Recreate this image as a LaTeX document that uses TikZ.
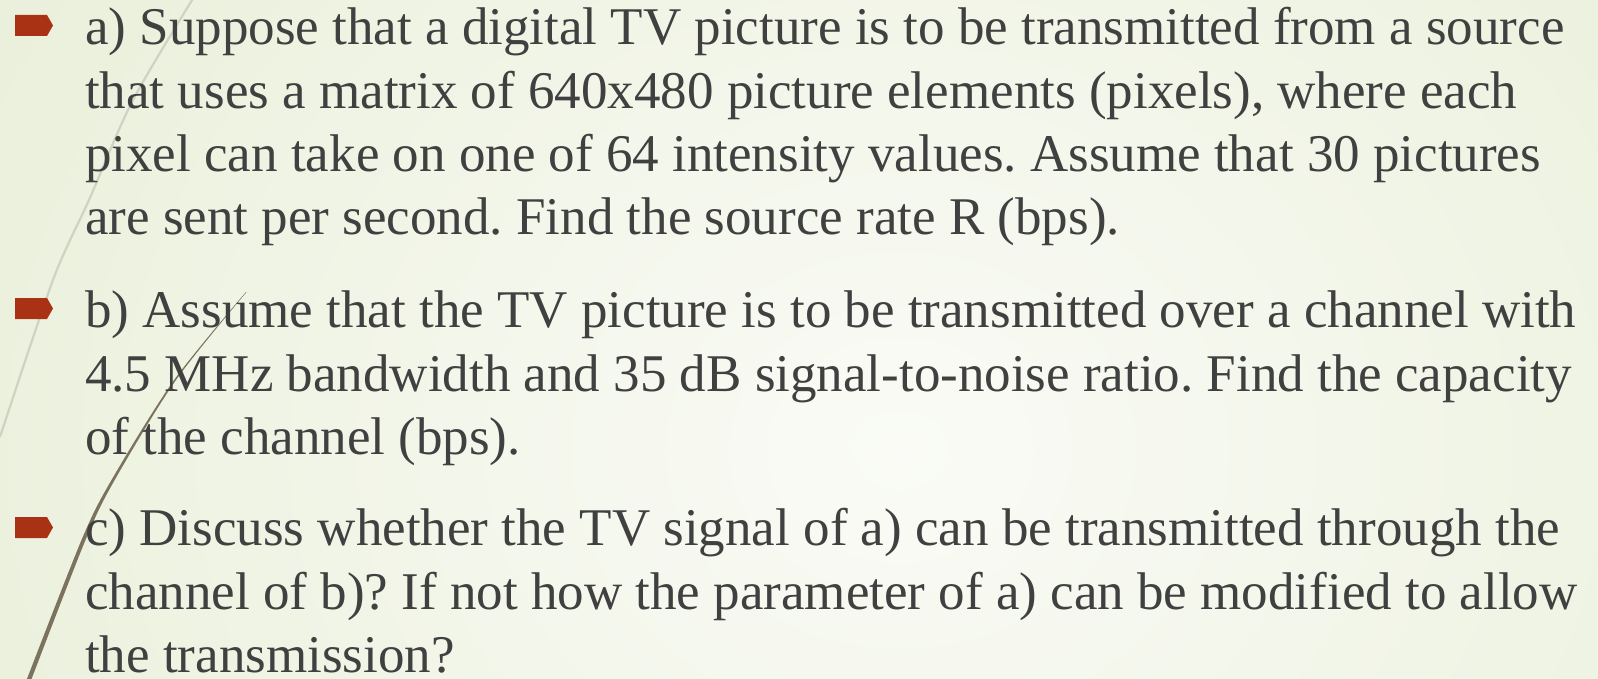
\documentclass[tikz,border=0pt]{standalone}
\usepackage{fontspec}
\setmainfont{Liberation Serif}
\frenchspacing
\definecolor{txt}{HTML}{404040}
\definecolor{bul}{HTML}{A93114}
\definecolor{bgout}{HTML}{E1EACC}
\definecolor{bgin}{HTML}{FAFBF6}
\definecolor{lineA}{HTML}{D0D2C2}
\definecolor{lineB}{HTML}{7B735D}
\begin{document}
\begin{tikzpicture}[x=1pt,y=-1pt,
  txtline/.style={anchor=base west,inner sep=0pt,text=txt,font=\fontsize{53}{63}\selectfont},
  bulletmark/.style={fill=bul,draw=none}]
\useasboundingbox (0,0) rectangle (1598,679);
\begin{scope}
\clip (0,0) rectangle (1598,679);
\fill[bgout] (0,0) rectangle (1598,679);
\shade[inner color=bgin,outer color=bgout] (-700,-900) rectangle (2500,1800);
% light line
\draw[lineA,line width=2.2pt] plot[smooth] coordinates {(197,-8) (133,100) (89,200) (53,280) (0,437)};
% dark tapered line
\fill[lineB] plot[smooth] coordinates {(246,292) (174.1,380) (111.5,480) (81.5,540) (25.8,682)}
  -- plot[smooth] coordinates {(30.4,682) (85.5,540) (114.7,480) (176,380) (246.6,292)} -- cycle;
\end{scope}
% bullets
\foreach \y in {15,298,517}{
  \fill[bulletmark] (15,\y) -- (47,\y) -- (53,{\y+10.5}) -- (47,{\y+21}) -- (15,{\y+21}) -- cycle;
}
\node[txtline] (a1) at (85,45) {a) Suppose that a digital TV picture is to be transmitted from a source};
\node[txtline] (a2) at (85,109) {that uses a matrix of 640x480 picture elements (pixels), where each};
\node[txtline] (a3) at (85,172) {pixel can take on one of 64 intensity values. Assume that 30 pictures};
\node[txtline] (a4) at (85,235) {are sent per second. Find the source rate R (bps).};
\node[txtline] (b1) at (85,327) {b) Assume that the TV picture is to be transmitted over a channel with};
\node[txtline] (b2) at (85,391) {4.5 MHz bandwidth and 35 dB signal-to-noise ratio. Find the capacity};
\node[txtline] (b3) at (85,454) {of the channel (bps).};
\node[txtline] (c1) at (85,545) {c) Discuss whether the TV signal of a) can be transmitted through the};
\node[txtline] (c2) at (85,609) {channel of b)? If not how the parameter of a) can be modified to allow};
\node[txtline] (c3) at (85,672) {the transmission?};
\end{tikzpicture}
\end{document}
